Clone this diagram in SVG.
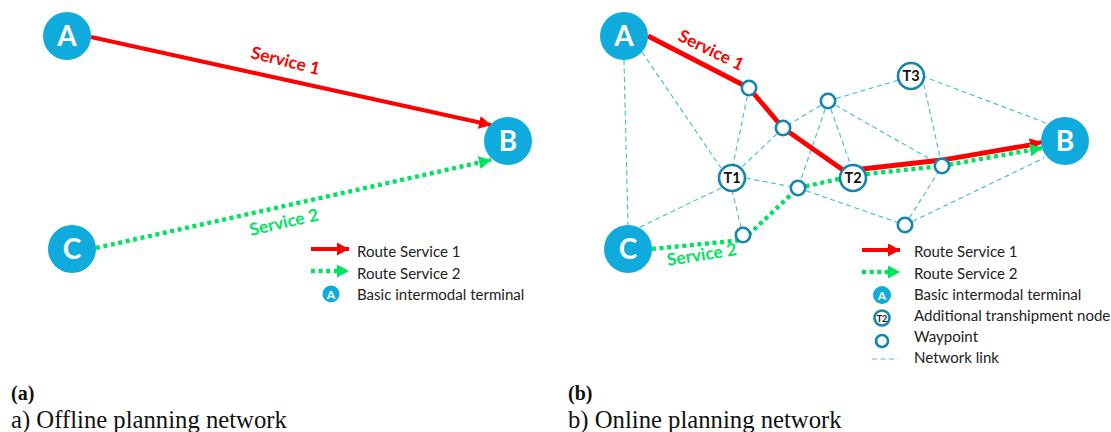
<svg xmlns="http://www.w3.org/2000/svg" width="1111" height="432" viewBox="0 0 1111 432">
<style>
text{font-family:Lato,"Open Sans",sans-serif}
.big{fill:#0fabdc}
.bl{fill:#fff;font-size:28px;font-weight:700;text-anchor:middle}
.wp{fill:#fff;stroke:#1484b0;stroke-width:2.6}
.tl{fill:#111;font-size:14.5px;font-weight:700;text-anchor:middle}
.link{fill:none;stroke:#4dbde6;stroke-width:1.2;stroke-dasharray:5 3.5}
.red{fill:none;stroke:#f00;stroke-width:4.2}
.grn{fill:none;stroke:#00e35f;stroke-width:4.4;stroke-dasharray:4 3.6}
.leg{fill:#222;font-size:15.05px}
.s1{fill:#f00;font-size:17.3px;font-weight:700}
.s2{fill:#00e35f;font-size:17.3px;font-weight:700}
.cap{font-family:"Liberation Serif",serif;fill:#111;font-size:24.7px}
.hd{font-family:"Liberation Serif",serif;fill:#111;font-size:20px;font-weight:700}
</style>
<defs>
<marker id="ar" markerUnits="userSpaceOnUse" markerWidth="14" markerHeight="14" refX="12" refY="6.5" orient="auto"><path d="M0 0L12 6.5L0 13Z" fill="#f00"/></marker>
<marker id="ag" markerUnits="userSpaceOnUse" markerWidth="14" markerHeight="14" refX="12" refY="6.5" orient="auto"><path d="M0 0L12 6.5L0 13Z" fill="#00e35f"/></marker>
</defs>
<g id="connectors">
<path class="link" d="M624 60L628 226M642 52L721 168M749 88L733 165M783 128L742 167M828 101L783 128M828 101L798 188M828 101L851 166M828 101L899 80M922 76L1046 123M922 76L942 166M828 101L942 166M746 178L798 188M798 188L905 225M732 190L743 235M721 188L636 229M905 225L942 166M905 225L1044 158"/>
<path class="red" marker-end="url(#ar)" d="M91 37L491 125"/>
<path class="grn" marker-end="url(#ag)" d="M96 248L491 160"/>
<path class="red" marker-end="url(#ar)" d="M311 249H349"/>
<path class="grn" marker-end="url(#ag)" d="M311 271H349"/>
<path class="red" style="stroke-width:4.8" d="M648 36L749 88L783 128L843 170L862 169L942 160L1030 145"/>
<path class="red" marker-end="url(#ar)" d="M1025 146L1042 142"/>
<path class="grn" marker-end="url(#ag)" d="M652 249L743 240L798 188L843 178M866 174L942 166L1042 148"/>
<path class="red" marker-end="url(#ar)" d="M862 250H900"/>
<path class="grn" marker-end="url(#ag)" d="M862 272H900"/>
<path class="link" d="M872 359H898"/>
</g>
<g id="a-A"><circle class="big" cx="67" cy="36" r="24"/><text class="bl" x="67" y="46">A</text></g>
<g id="a-B"><circle class="big" cx="508" cy="141" r="24"/><text class="bl" x="508" y="151">B</text></g>
<g id="a-C"><circle class="big" cx="72" cy="249" r="24"/><text class="bl" x="72" y="259">C</text></g>
<g id="b-A"><circle class="big" cx="624" cy="36" r="24"/><text class="bl" x="624" y="46">A</text></g>
<g id="b-B"><circle class="big" cx="1065" cy="141" r="24"/><text class="bl" x="1065" y="151">B</text></g>
<g id="b-C"><circle class="big" cx="628" cy="249" r="24"/><text class="bl" x="628" y="259">C</text></g>
<g id="T1"><circle class="wp" cx="732" cy="178" r="13"/><text class="tl" x="732" y="183">T1</text></g>
<g id="T2"><circle class="wp" cx="853" cy="178" r="13"/><text class="tl" x="853" y="183">T2</text></g>
<g id="T3"><circle class="wp" cx="911" cy="76" r="13"/><text class="tl" x="911" y="81">T3</text></g>
<g id="W1"><circle class="wp" cx="749" cy="88" r="7.2"/></g>
<g id="W2"><circle class="wp" cx="783" cy="128" r="7.2"/></g>
<g id="W3"><circle class="wp" cx="828" cy="101" r="7.2"/></g>
<g id="W4"><circle class="wp" cx="798" cy="188" r="7.2"/></g>
<g id="W5"><circle class="wp" cx="743" cy="235" r="7.2"/></g>
<g id="W6"><circle class="wp" cx="905" cy="225" r="7.2"/></g>
<g id="W7"><circle class="wp" cx="942" cy="166" r="7.2"/></g>
<text class="s1" transform="translate(250,58) rotate(14)">Service 1</text>
<text class="s2" transform="translate(251,236) rotate(-13)">Service 2</text>
<text class="s1" transform="translate(677,40) rotate(26)">Service 1</text>
<text class="s2" transform="translate(668,266) rotate(-9)">Service 2</text>
<g id="legend-a">
<text class="leg" x="357" y="257">Route Service 1</text>
<text class="leg" x="357" y="279">Route Service 2</text>
<circle class="big" cx="331" cy="294" r="8.5"/><text x="331" y="299" text-anchor="middle" fill="#fff" font-size="12" font-weight="700">A</text>
<text class="leg" x="357" y="300">Basic intermodal terminal</text>
</g>
<g id="legend-b">
<text class="leg" x="914" y="257">Route Service 1</text>
<text class="leg" x="914" y="279">Route Service 2</text>
<circle class="big" cx="882" cy="295" r="9"/><text x="882" y="300" text-anchor="middle" fill="#fff" font-size="12" font-weight="700">A</text>
<text class="leg" x="914" y="300">Basic intermodal terminal</text>
<circle class="wp" cx="882" cy="318" r="7.5"/><text x="882" y="322" text-anchor="middle" fill="#111" font-size="9" font-weight="700">T2</text>
<text class="leg" x="914" y="321">Additional transhipment node</text>
<circle class="wp" cx="882" cy="341" r="6"/>
<text class="leg" x="914" y="342">Waypoint</text>
<text class="leg" x="914" y="363">Network link</text>
</g>
<text class="hd" x="11" y="400">(a)</text>
<text class="cap" x="11" y="428">a) Offline planning network</text>
<text class="hd" x="568" y="400">(b)</text>
<text class="cap" x="568" y="428">b) Online planning network</text>
</svg>
